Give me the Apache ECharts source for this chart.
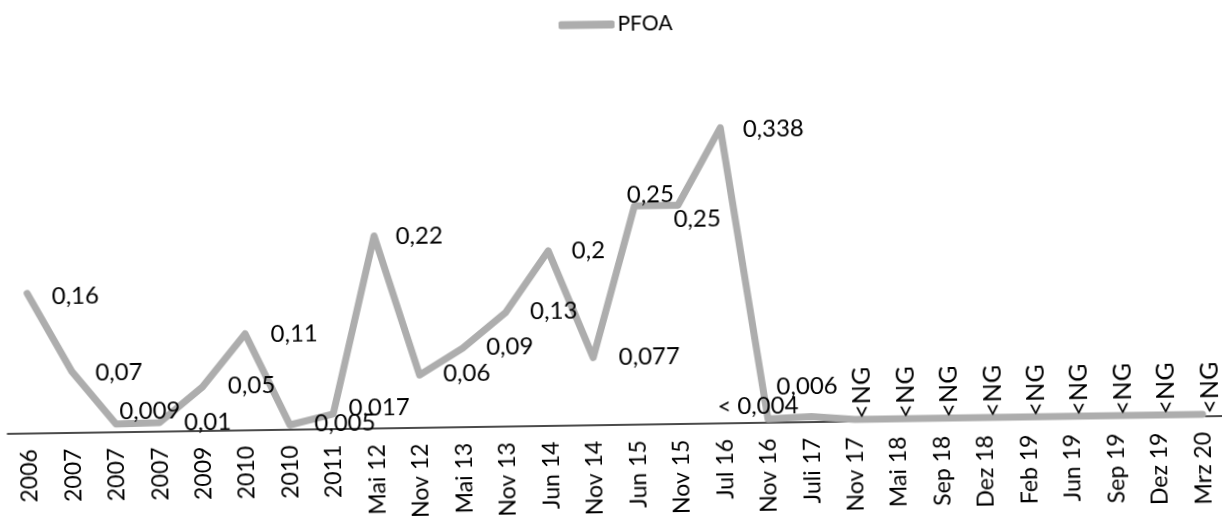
<!DOCTYPE html>
<html>
<head>
<meta charset="utf-8">
<script src="https://cdn.jsdelivr.net/npm/echarts@6/dist/echarts.min.js"></script>
<style>
html,body{margin:0;padding:0;background:#fff;overflow:hidden;}
#chart{width:1222px;height:518px;transform:rotate(-0.84deg);transform-origin:611px 259px;}
</style>
</head>
<body>
<div id="chart"></div>
<script>
// ---- data ----
const seriesName = 'PFOA';
const categories = ['2006','2007','2007','2007','2009','2010','2010','2011','Mai 12','Nov 12','Mai 13','Nov 13','Jun 14','Nov 14','Jun 15','Nov 15','Jul 16','Nov 16','Juli 17','Nov 17','Mai 18','Sep 18','Dez 18','Feb 19','Jun 19','Sep 19','Dez 19','Mrz 20'];
const values = [0.16,0.07,0.009,0.01,0.05,0.11,0.005,0.017,0.22,0.06,0.09,0.13,0.2,0.077,0.25,0.25,0.338,0.004,0.006,0.002,0.002,0.002,0.002,0.002,0.002,0.002,0.002,0.002];
const labelTexts = ['0,16','0,07','0,009','0,01','0,05','0,11','0,005','0,017','0,22','0,06','0,09','0,13','0,2','0,077','0,25','0,25','0,338','< 0,004','0,006','<NG','<NG','<NG','<NG','<NG','<NG','<NG','<NG','<NG'];

// ---- layout of the data labels (offset of label from its point, px) ----
const labelOffsets = [[25,4],[24,2],[4,-12],[25,1],[26,0],[26,1],[25,-1],[16,-5],[22,1],[24,0],[24,0],[25,0],[24,1],[26,0],[-7,-10],[-4,15],[23,2],[-50,-12],[-34,-30]];
const ngOffset = [8,0];

const FONT = 'Lato';
const LINE_COLOR = '#adadad';
const data = values.map((v, i) => {
  const isNG = labelTexts[i] === '<NG';
  const off = isNG ? ngOffset : labelOffsets[i];
  return {
    value: v,
    label: {
      show: true,
      formatter: labelTexts[i],
      position: off,
      align: 'left',
      verticalAlign: 'middle',
      rotate: isNG ? 90 : 0,
      fontSize: isNG ? 25 : 24,
      fontFamily: FONT,
      color: '#000'
    }
  };
});

const chart = echarts.init(document.getElementById('chart'), null, {renderer: 'canvas'});
chart.setOption({
  animation: false,
  backgroundColor: '#fff',
  legend: {
    data: [seriesName],
    left: 557,
    top: 9,
    icon: 'roundRect',
    itemWidth: 56,
    itemHeight: 8,
    itemGap: 4,
    itemStyle: {color: LINE_COLOR, opacity: 1},
    textStyle: {fontFamily: FONT, fontSize: 21, color: '#000', padding: [0,0,0,-2]}
  },
  grid: {left: 5, right: -4, top: 75.2, bottom: 91, containLabel: false},
  xAxis: {
    type: 'category',
    data: categories,
    boundaryGap: true,
    axisLine: {show: true, lineStyle: {color: '#111', width: 1.5}},
    axisTick: {show: false},
    axisLabel: {interval: 0, rotate: 90, margin: 16, fontFamily: FONT, fontSize: 23, color: '#000'},
    splitLine: {show: false}
  },
  yAxis: {
    type: 'value',
    min: 0,
    max: 0.4,
    show: false,
    splitLine: {show: false}
  },
  series: [{
    name: seriesName,
    type: 'line',
    data: data,
    symbol: 'circle',
    symbolSize: 1,
    showSymbol: true,
    itemStyle: {color: 'rgba(0,0,0,0)', borderWidth: 0},
    lineStyle: {color: LINE_COLOR, width: 7, join: 'round', cap: 'round'},
    labelLayout: {hideOverlap: false},
    z: 3
  }]
});
</script>
</body>
</html>
